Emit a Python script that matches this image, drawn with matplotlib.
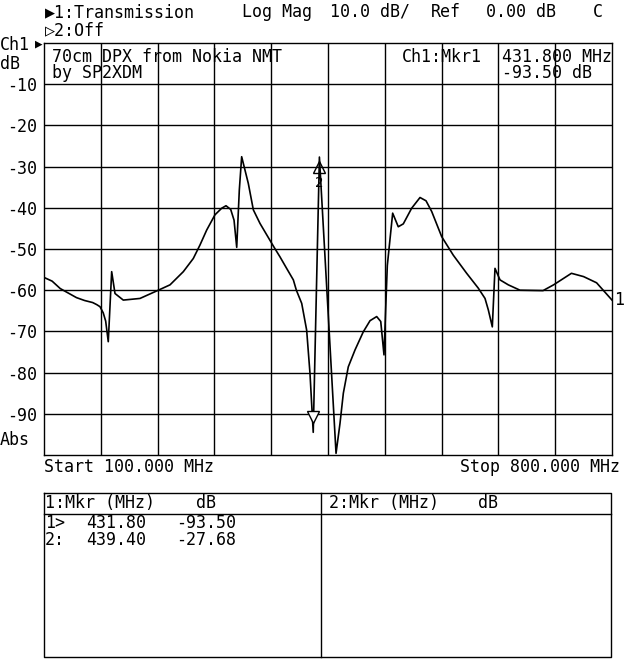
import matplotlib
matplotlib.use("Agg")
import matplotlib.pyplot as plt
import matplotlib.transforms as mtransforms

# ---- data ----
freq_mhz = [100, 110, 120, 130, 140, 150, 160, 165, 169, 173, 176, 179.2, 183.4, 187.5,
            197.7, 218.3, 240.9, 255.3, 271.7, 284.0, 292.3, 300.5, 310.7, 319.0, 324.3,
            330.1, 334.2, 337.5, 340.7, 343.6, 351.8, 358.0, 366.2, 383, 390.8, 399,
            407.3, 411, 417.6, 423.7, 427.8, 431.8, 439.4, 459.9, 464.8, 468.9, 475.0,
            483.3, 493.5, 501.8, 510.0, 515.0, 519.0, 521.5, 523.1, 529.7, 536.6, 542.8,
            553.1, 563.4, 570.8, 577.8, 590.1, 604.4, 620.9, 635.2, 643.5, 647.6, 652.5,
            655.8, 662.0, 672.2, 686.6, 715, 728, 750, 765, 781, 800]
trace_db = [-56.9, -57.8, -59.6, -60.7, -61.8, -62.5, -63.0, -63.5, -64.0, -65.5, -67.5,
            -72.5, -55.5, -60.8, -62.4, -62.0, -60.0, -58.7, -55.5, -52.3, -49.0, -45.4,
            -41.7, -40.1, -39.5, -40.4, -43.0, -49.6, -35.7, -27.6, -34.1, -40.5, -43.8,
            -49.4, -51.9, -54.7, -57.5, -60.0, -63.2, -69.7, -80.2, -94.5, -27.68, -99.6,
            -92.3, -85.0, -78.6, -74.5, -70.1, -67.4, -66.4, -67.6, -75.7, -62.4, -54.0,
            -41.3, -44.6, -43.9, -40.1, -37.5, -38.3, -40.9, -47.0, -51.5, -55.9, -59.5,
            -62.0, -64.8, -68.9, -54.7, -57.5, -58.7, -60.0, -60.1, -58.7, -55.9, -56.7,
            -58.2, -62.4]

start_mhz, stop_mhz = 100, 800
ref_db, scale_db = 0.0, 10.0
ytick_vals = [-10, -20, -30, -40, -50, -60, -70, -80, -90]
ytick_labels = ["-10", "-20", "-30", "-40", "-50", "-60", "-70", "-80", "-90"]

mkr_freq = [431.8, 439.4]
mkr_db = [-93.50, -27.68]
mkr_freq_txt = ["431.80", "439.40"]
mkr_db_txt = ["-93.50", "-27.68"]

W, H = 640, 659
FONT = ["DejaVu Sans Mono", "DejaVu Sans"]
FS = 12

fig = plt.figure(figsize=(W / 100, H / 100), dpi=100)
fig.patch.set_facecolor("white")

# main graticule axes
L, T, R, B = 44, 43, 612, 455
ax = fig.add_axes([L / W, 1 - B / H, (R - L) / W, (B - T) / H])
ax.set_xlim(start_mhz, stop_mhz)
ax.set_ylim(-100, 0)
ax.set_xticks([start_mhz + 70 * i for i in range(1, 10)])
ax.set_xticklabels([])
ax.set_yticks(ytick_vals)
ax.set_yticklabels(ytick_labels, fontfamily=FONT, fontsize=FS)
ax.tick_params(axis="both", length=0, pad=5)
ax.grid(True, color="black", lw=1.0)
for s in ax.spines.values():
    s.set_color("black")
    s.set_linewidth(1.0)

ax.plot(freq_mhz, trace_db, color="black", lw=1.2, zorder=3, clip_on=True)

# markers (hollow triangles)
off1 = mtransforms.offset_copy(ax.transData, fig=fig, x=0, y=11, units="dots")
ax.plot([mkr_freq[0]], [mkr_db[0]], marker="v", ms=8, mfc="white", mec="black",
        mew=1.0, transform=off1, zorder=4, clip_on=False)
off2 = mtransforms.offset_copy(ax.transData, fig=fig, x=0, y=-10, units="dots")
ax.plot([mkr_freq[1]], [mkr_db[1]], marker="^", ms=8, mfc="none", mec="black",
        mew=1.0, transform=off2, zorder=4, clip_on=False)
off2t = mtransforms.offset_copy(ax.transData, fig=fig, x=0, y=-26, units="dots")
ax.text(mkr_freq[1], mkr_db[1], "2", transform=off2t, ha="center", va="center",
        fontfamily=FONT, fontsize=10, zorder=4)

# overlay axes in pixel coords for annotation text and table
ov = fig.add_axes([0, 0, 1, 1])
ov.set_xlim(0, W)
ov.set_ylim(H, 0)
ov.axis("off")


def t(x, y, s, ha="left", fs=FS, ls=1.2):
    ov.text(x, y, s, ha=ha, va="center", fontfamily=FONT, fontsize=fs, linespacing=ls)


# header
t(45, 12, "\u25b61:Transmission")
t(242, 12, "Log Mag")
t(330, 12, "10.0 dB/")
t(431, 12, "Ref")
t(486, 12, "0.00 dB")
t(593, 12, "C")
t(45, 30, "\u25b72:Off")
t(0, 45, "Ch1")
t(35, 44, "\u25b6", fs=9)
t(0, 64, "dB")
t(0, 440, "Abs")

# in-graticule annotations (two-line blocks)
t(52, 65, "70cm DPX from Nokia NMT\nby SP2XDM", ls=0.82)
t(402, 57, "Ch1:Mkr1")
t(502, 65, "431.800 MHz\n-93.50 dB", ls=0.82)
t(614, 300, "1")

# start / stop
t(44, 467, "Start 100.000 MHz")
t(620, 467, "Stop 800.000 MHz", ha="right")

# marker table
tl, tt, tr, tb = 44, 493, 611, 657
tdiv, thdr = 320.5, 514
ov.plot([tl, tr, tr, tl, tl], [tt, tt, tb, tb, tt], color="black", lw=1.0)
ov.plot([tl, tr], [thdr, thdr], color="black", lw=1.0)
ov.plot([tdiv, tdiv], [tt, tb], color="black", lw=1.0)
t(45, 503, "1:Mkr (MHz)")
t(196, 503, "dB")
t(329, 503, "2:Mkr (MHz)")
t(478, 503, "dB")
row_y = [523, 540]
row_tag = ["1>", "2:"]
for i in range(len(mkr_freq_txt)):
    t(45, row_y[i], row_tag[i])
    t(86, row_y[i], mkr_freq_txt[i])
    t(176, row_y[i], mkr_db_txt[i])

fig.savefig("out.png", dpi=100, facecolor="white")
